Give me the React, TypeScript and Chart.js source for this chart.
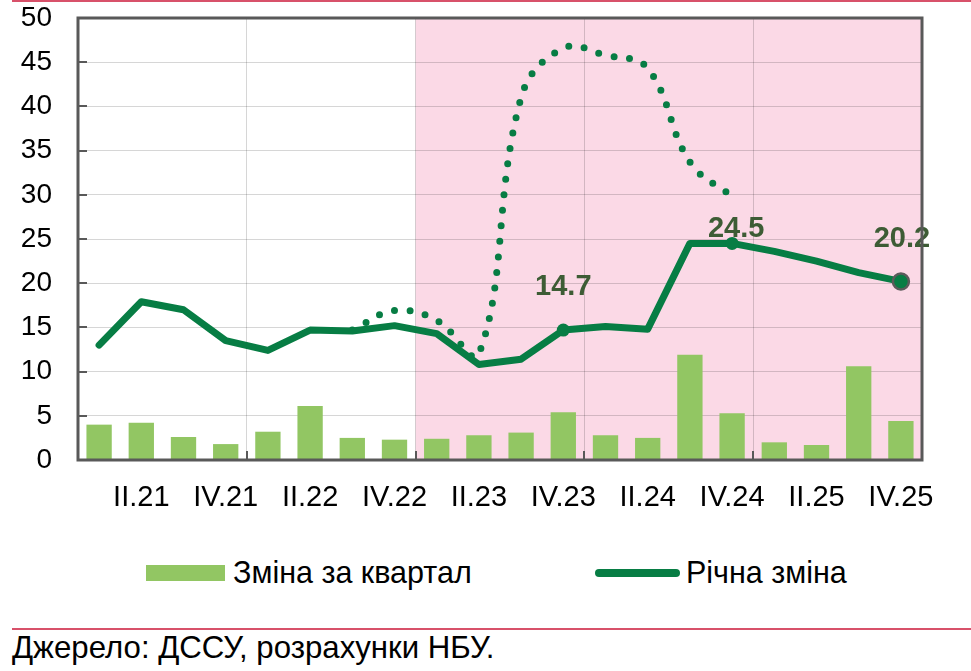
import React, { useEffect, useRef } from 'react';
import { Chart, registerables } from 'chart.js';

Chart.register(...registerables);

const categories = ['I.21', 'II.21', 'III.21', 'IV.21', 'I.22', 'II.22', 'III.22', 'IV.22', 'I.23', 'II.23', 'III.23', 'IV.23', 'I.24', 'II.24', 'III.24', 'IV.24', 'I.25', 'II.25', 'III.25', 'IV.25'];
const quarterlyChange = [4.0, 4.2, 2.6, 1.8, 3.2, 6.1, 2.5, 2.3, 2.4, 2.8, 3.1, 5.4, 2.8, 2.5, 11.9, 5.3, 2.0, 1.7, 10.6, 4.4];
const annualChange = [13.0, 17.9, 17.0, 13.5, 12.4, 14.7, 14.6, 15.2, 14.3, 10.8, 11.4, 14.7, 15.1, 14.8, 24.5, 24.5, 23.6, 22.5, 21.2, 20.2];
const dottedSeries: (number | null)[] = [null, null, null, null, null, null, 14.7, 16.9, 15.8, 12.0, 41.0, 46.6, 45.8, 44.3, 33.7, 29.8, null, null, null, null];
const yMin = 0;
const yMax = 50;
const yStep = 5;
const labelledPoints = [11, 15, 19];
const labelOffsets = [[0, -43], [4, -14], [1, -42]];
const shadeFromIndex = 8;

const BAR = '#92c663';
const GREEN = '#077d44';
const LABEL_GREEN = '#3d5c35';
const GRID = 'rgba(0,0,0,0.16)';
const FRAME = '#595959';
const PINK = '#fbd9e6';
const RED = '#d8516a';
const FONT = 'Arial, "Liberation Sans", sans-serif';

const decorPlugin = {
  id: 'decor',
  beforeDraw(chart: any) {
    const { ctx, chartArea } = chart;
    const x = chart.scales.x;
    const sx = (x.getPixelForValue(shadeFromIndex - 1) + x.getPixelForValue(shadeFromIndex)) / 2;
    ctx.save();
    ctx.fillStyle = PINK;
    ctx.fillRect(sx, chartArea.top, chartArea.right - sx, chartArea.bottom - chartArea.top);
    ctx.restore();
  },
  afterDatasetsDraw(chart: any) {
    const { ctx } = chart;
    const x = chart.scales.x;
    const y = chart.scales.y;
    ctx.save();
    ctx.fillStyle = LABEL_GREEN;
    ctx.font = `bold 29px ${FONT}`;
    ctx.textAlign = 'center';
    ctx.textBaseline = 'middle';
    labelledPoints.forEach((idx, k) => {
      const px = x.getPixelForValue(idx) + labelOffsets[k][0];
      const py = y.getPixelForValue(annualChange[idx]) + labelOffsets[k][1];
      ctx.fillText(annualChange[idx].toFixed(1), px, py);
    });
    ctx.restore();
  },
  afterDraw(chart: any) {
    const { ctx, chartArea } = chart;
    const x = chart.scales.x;
    const y = chart.scales.y;
    ctx.save();
    ctx.strokeStyle = FRAME;
    ctx.lineWidth = 2;
    for (let v = yMin; v <= yMax; v += yStep) {
      const py = Math.round(y.getPixelForValue(v));
      ctx.beginPath();
      ctx.moveTo(chartArea.left, py);
      ctx.lineTo(chartArea.left + 9, py);
      ctx.stroke();
    }
    for (let i = 4; i < categories.length; i += 4) {
      const px = Math.round((x.getPixelForValue(i - 1) + x.getPixelForValue(i)) / 2);
      ctx.beginPath();
      ctx.moveTo(px, chartArea.bottom);
      ctx.lineTo(px, chartArea.bottom - 9);
      ctx.stroke();
    }
    ctx.lineWidth = 3;
    ctx.strokeRect(chartArea.left, chartArea.top, chartArea.right - chartArea.left, chartArea.bottom - chartArea.top);
    ctx.restore();
  },
};

export default function App() {
  const canvasRef = useRef<HTMLCanvasElement | null>(null);

  useEffect(() => {
    if (!canvasRef.current) return;
    const chart = new Chart(canvasRef.current, {
      type: 'bar',
      data: {
        labels: categories,
        datasets: [
          {
            type: 'line',
            label: 'Річна зміна',
            data: annualChange,
            borderColor: GREEN,
            backgroundColor: GREEN,
            borderWidth: 7,
            borderJoinStyle: 'round',
            borderCapStyle: 'round',
            tension: 0,
            pointRadius: (c: any) => (c.dataIndex === 19 ? 8 : labelledPoints.includes(c.dataIndex) ? 6.5 : 0),
            pointBackgroundColor: GREEN,
            pointBorderColor: (c: any) => (c.dataIndex === 19 ? '#5b5b5b' : GREEN),
            pointBorderWidth: (c: any) => (c.dataIndex === 19 ? 2.5 : 0),
            pointHoverRadius: 0,
            order: 0,
          } as any,
          {
            type: 'line',
            label: 'dotted',
            data: dottedSeries,
            borderColor: GREEN,
            borderWidth: 7,
            borderDash: [0, 15.6],
            borderCapStyle: 'round',
            tension: 0.4,
            pointRadius: 0,
            spanGaps: false,
            order: 1,
          } as any,
          {
            type: 'bar',
            label: 'Зміна за квартал',
            data: quarterlyChange,
            backgroundColor: BAR,
            borderWidth: 0,
            barPercentage: 0.6,
            categoryPercentage: 1,
            order: 2,
          } as any,
        ],
      },
      options: {
        animation: false,
        responsive: false,
        maintainAspectRatio: false,
        events: [],
        layout: { padding: { top: 18, right: 49, left: 0, bottom: 0 } },
        plugins: {
          legend: { display: false },
          tooltip: { enabled: false },
          title: { display: false },
        },
        scales: {
          x: {
            offset: true,
            grid: {
              offset: true,
              drawTicks: false,
              color: (c: any) => (c.index > 0 && c.index < categories.length && c.index % 4 === 0 ? GRID : 'rgba(0,0,0,0)'),
              lineWidth: 1,
            },
            border: { display: false },
            ticks: {
              autoSkip: false,
              maxRotation: 0,
              minRotation: 0,
              padding: 21,
              color: '#000',
              font: { family: FONT, size: 29 },
              callback: (_v: any, i: number) => (i % 2 === 1 ? categories[i] : ''),
            },
            afterFit: (s: any) => {
              s.height = 80;
              s.paddingLeft = 0;
              s.paddingRight = 0;
            },
          },
          y: {
            min: yMin,
            max: yMax,
            grid: { drawTicks: false, color: GRID, lineWidth: 1 },
            border: { display: false },
            ticks: {
              stepSize: yStep,
              padding: 26,
              color: '#000',
              font: { family: FONT, size: 28 },
            },
            afterFit: (s: any) => {
              s.width = 78;
              s.paddingTop = 0;
              s.paddingBottom = 0;
            },
          },
        },
      } as any,
      plugins: [decorPlugin],
    });
    return () => chart.destroy();
  }, []);

  const textStyle: React.CSSProperties = {
    position: 'absolute',
    fontFamily: FONT,
    fontSize: 30.5,
    lineHeight: '34px',
    color: '#000',
    whiteSpace: 'nowrap',
  };

  return (
    <div style={{ position: 'absolute', left: 0, top: 0, width: 971, height: 671, background: '#fff', overflow: 'hidden' }}>
      <div style={{ position: 'absolute', left: 12, top: 0, width: 959, height: 2, background: RED }} />
      <canvas ref={canvasRef} width={971} height={540} style={{ position: 'absolute', left: 0, top: 0, width: 971, height: 540 }} />
      <div style={{ position: 'absolute', left: 146, top: 565, width: 79, height: 16, background: BAR }} />
      <div style={{ ...textStyle, left: 233, top: 555 }}>Зміна за квартал</div>
      <div style={{ position: 'absolute', left: 595, top: 569, width: 85, height: 8, borderRadius: 4, background: GREEN }} />
      <div style={{ ...textStyle, left: 686, top: 555 }}>Річна зміна</div>
      <div style={{ position: 'absolute', left: 12, top: 628, width: 959, height: 2, background: RED }} />
      <div style={{ ...textStyle, left: 12, top: 631, fontSize: 31.2, lineHeight: '34px' }}>Джерело: ДССУ, розрахунки НБУ.</div>
    </div>
  );
}
